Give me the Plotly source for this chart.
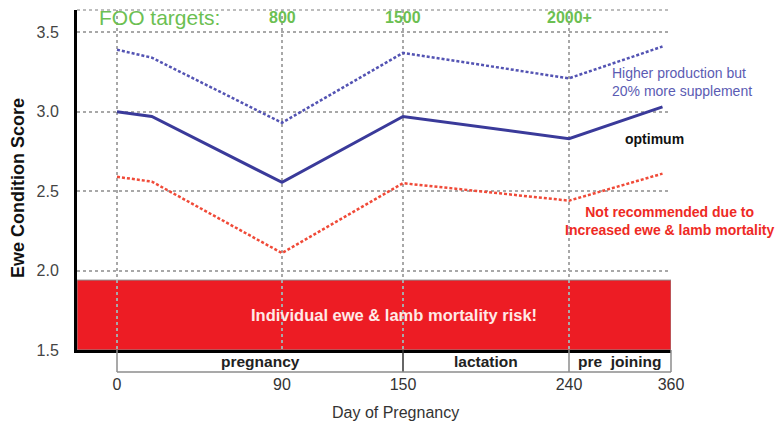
import numpy as np
import plotly.graph_objects as go

# Condition score targets through the year
days = [0, 19, 90, 150, 240, 350]
optimum = [3.00, 2.97, 2.555, 2.97, 2.83, 3.03]
higher = [3.39, 3.34, 2.93, 3.37, 3.21, 3.41]
not_recommended = [2.59, 2.56, 2.11, 2.55, 2.44, 2.61]

tick_days = [0, 90, 150, 240, 360]
tick_labels = ["0", "90", "150", "240", "360"]
foo_days = [90, 150, 240]
foo_labels = ["800", "1500", "2000+"]
phase_bounds = [0, 150, 240, 360]
phase_names = ["pregnancy", "lactation", "pre  joining"]
y_ticks = [1.5, 2.0, 2.5, 3.0, 3.5]
risk_top = 1.94

# The day axis is stretched unevenly (schematic), so days are placed
# on a display scale through these anchor points.
tick_pos = [0, 165, 286, 452, 554]
X_MIN, X_MAX = -40, 554
Y_MIN, Y_MAX = 1.5, 3.64

# Plot box size in pixels (for placing text outside the axes)
PLOT_W, PLOT_H = 594, 340


def xpos(d):
    return np.interp(d, tick_days, tick_pos)


def xpaper(d):
    return (xpos(d) - X_MIN) / (X_MAX - X_MIN)


FONT = "Liberation Sans, Arial, sans-serif"
GRID = "#a8a8a8"
STRIP = "#8c8c8c"
GREEN = "#6cbf52"

fig = go.Figure()
fig.add_trace(go.Scatter(x=xpos(days), y=higher, mode="lines",
                         line=dict(color="#5353b3", width=2.5, dash="3px,2px"),
                         hoverinfo="skip"))
fig.add_trace(go.Scatter(x=xpos(days), y=optimum, mode="lines",
                         line=dict(color="#3a3a9a", width=3),
                         hoverinfo="skip"))
fig.add_trace(go.Scatter(x=xpos(days), y=not_recommended, mode="lines",
                         line=dict(color="#f04a38", width=2.5, dash="3px,2px"),
                         hoverinfo="skip"))

shapes = []
# Mortality risk zone
shapes.append(dict(type="rect", xref="x", yref="y", x0=X_MIN, x1=X_MAX,
                   y0=Y_MIN, y1=risk_top, fillcolor="#ed1c24",
                   line=dict(color="#8a8a8a", width=1), layer="below"))
# Top border of the plot box
shapes.append(dict(type="line", xref="paper", yref="paper", x0=0, x1=1,
                   y0=1, y1=1, line=dict(color=GRID, width=1.5, dash="dot")))
# Phase strip under the axis: side edges, dividers and bottom edge
bar_h = -22 / PLOT_H
for i, d in enumerate(phase_bounds):
    shapes.append(dict(type="line", xref="paper", yref="paper",
                       x0=xpaper(d), x1=xpaper(d), y0=bar_h, y1=0,
                       line=dict(color="#333333" if i == 1 else STRIP,
                                 width=1.5)))
shapes.append(dict(type="line", xref="paper", yref="paper",
                   x0=xpaper(phase_bounds[0]), x1=xpaper(phase_bounds[-1]),
                   y0=bar_h, y1=bar_h, line=dict(color=STRIP, width=1.5)))

annotations = []
for name, a, b in zip(phase_names, phase_bounds[:-1], phase_bounds[1:]):
    annotations.append(dict(x=(xpos(a) + xpos(b)) / 2, xref="x",
                            y=bar_h / 2, yref="paper", yanchor="middle",
                            xanchor="center", text=f"<b>{name}</b>",
                            showarrow=False,
                            font=dict(family=FONT, size=15.5, color="#222")))

annotations.append(dict(x=20 / PLOT_W, xref="paper", y=3.59, yref="y",
                        xanchor="left", yanchor="middle", text="FOO targets:",
                        showarrow=False,
                        font=dict(family=FONT, size=21, color=GREEN)))
for d, lab in zip(foo_days, foo_labels):
    annotations.append(dict(x=xpos(d), xref="x", y=3.59, yref="y",
                            xanchor="center", yanchor="middle",
                            text=f"<b>{lab}</b>", showarrow=False,
                            font=dict(family=FONT, size=16, color=GREEN)))

annotations.append(dict(x=533 / PLOT_W, xref="paper", y=3.19, yref="y",
                        xanchor="left", yanchor="middle", align="left",
                        showarrow=False,
                        text="Higher production but<br>20% more supplement",
                        font=dict(family=FONT, size=14, color="#5b5bb3")))
annotations.append(dict(x=546 / PLOT_W, xref="paper", y=2.828, yref="y",
                        xanchor="left", yanchor="middle", showarrow=False,
                        text="<b>optimum</b>",
                        font=dict(family=FONT, size=14, color="#111")))
annotations.append(dict(x=593 / PLOT_W, xref="paper", y=2.312, yref="y",
                        xanchor="center", yanchor="middle", align="center",
                        showarrow=False,
                        text="<b>Not recommended due to<br>Increased ewe &amp; lamb mortality</b>",
                        font=dict(family=FONT, size=14, color="#ee2a24")))
annotations.append(dict(x=317 / PLOT_W, xref="paper",
                        y=(Y_MIN + risk_top) / 2, yref="y",
                        xanchor="center", yanchor="middle", showarrow=False,
                        text="<b>Individual ewe &amp; lamb mortality risk!</b>",
                        font=dict(family=FONT, size=16.5, color="#ffe9e6")))

# Axis titles
annotations.append(dict(x=318 / PLOT_W, xref="paper", y=-62 / PLOT_H,
                        yref="paper", xanchor="center", yanchor="middle",
                        showarrow=False, text="Day of Pregnancy",
                        font=dict(family=FONT, size=16, color="#333")))
annotations.append(dict(x=-59 / PLOT_W, xref="paper", y=162 / PLOT_H,
                        yref="paper", xanchor="center", yanchor="middle",
                        showarrow=False, textangle=-90,
                        text="<b>Ewe Condition Score</b>",
                        font=dict(family=FONT, size=18, color="#111")))

fig.update_layout(
    width=779, height=428,
    margin=dict(l=77, r=108, t=10, b=78),
    paper_bgcolor="white", plot_bgcolor="white",
    showlegend=False,
    shapes=shapes, annotations=annotations,
    font=dict(family=FONT),
    xaxis=dict(range=[X_MIN, X_MAX], tickvals=xpos(tick_days),
               ticktext=tick_labels, ticks="", ticklabelstandoff=18,
               tickfont=dict(size=16, color="#333"),
               showgrid=True, gridcolor=GRID, griddash="dot", gridwidth=1.5,
               zeroline=False, showline=True, linecolor="black", linewidth=3),
    yaxis=dict(range=[Y_MIN, Y_MAX], tickvals=y_ticks,
               ticktext=[f"{v:.1f}" for v in y_ticks], ticks="",
               ticklabelstandoff=12, tickfont=dict(size=16, color="#444"),
               showgrid=True, gridcolor=GRID, griddash="dot", gridwidth=1.5,
               zeroline=False, showline=True, linecolor="black", linewidth=3),
)

fig.write_html("out.html")
